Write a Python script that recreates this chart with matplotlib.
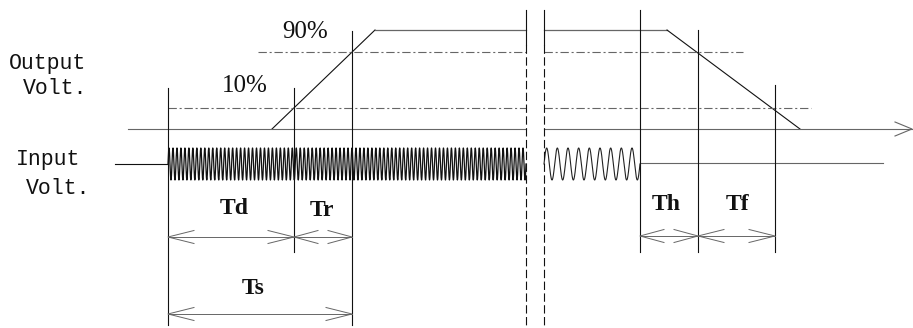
import numpy as np
import matplotlib.pyplot as plt

plt.rcParams['lines.scale_dashes'] = False

# ----------------------------
# timing points (time axis, left to right)
# ----------------------------
t_lead = 115        # input lead-in starts
t_on = 168          # input switched on
t_rise0 = 272       # output starts rising
t_10 = 294          # output reaches 10%
t_90 = 352          # output reaches 90%
t_top = 375         # output reaches 100%
t_brk = [526, 544]  # time axis break
t_off = 640         # input switched off
t_fall0 = 667       # output starts falling
t_f90 = 698         # output back to 90%
t_f10 = 775         # output back to 10%
t_fall1 = 800       # output back to 0
t_end = 912

# output levels
lv_0 = 129
lv_10 = 108
lv_90 = 52
lv_100 = 30
in_y = 164
in_amp = 16

# carrier cycles
cycles_fast = 90
cycles_slow = 9

level_names = ["10%", "90%"]
span_names = ["Td", "Tr", "Ts", "Th", "Tf"]

# ----------------------------
# figure
# ----------------------------
fig = plt.figure(figsize=(9.13, 3.28), dpi=100)
ax = fig.add_axes([0, 0, 1, 1])
ax.set_xlim(0, 913)
ax.set_ylim(328, 0)
ax.axis('off')

blk = '#111111'
gry = '#666666'
dashdot = (0, (6, 2, 1.5, 2))

# output waveform
ax.plot([t_rise0, t_top], [lv_0, lv_100], color=blk, lw=0.8)
ax.plot([t_top, t_brk[0]], [lv_100, lv_100], color=gry, lw=0.9)
ax.plot([t_brk[1], t_fall0], [lv_100, lv_100], color=gry, lw=0.9)
ax.plot([t_fall0, t_fall1], [lv_100, lv_0], color=blk, lw=0.8)

# 10% / 90% reference lines
ax.plot([258, t_brk[0]], [lv_90, lv_90], color=gry, lw=0.8, linestyle=dashdot)
ax.plot([t_brk[1], 743], [lv_90, lv_90], color=gry, lw=0.8, linestyle=dashdot)
ax.plot([t_on, t_brk[0]], [lv_10, lv_10], color=gry, lw=0.8, linestyle=dashdot)
ax.plot([t_brk[1], 811], [lv_10, lv_10], color=gry, lw=0.8, linestyle=dashdot)

# zero line / time axis with open arrow
ax.plot([128, t_brk[0]], [lv_0, lv_0], color=gry, lw=0.8)
ax.plot([t_brk[1], t_end], [lv_0, lv_0], color=gry, lw=0.8)
ax.plot([t_end - 17, t_end, t_end - 17], [lv_0 - 7, lv_0, lv_0 + 7], color=gry, lw=0.8)

# input waveform
ax.plot([t_lead, t_on], [in_y, in_y], color=blk, lw=0.8)
xf = np.linspace(t_on, t_brk[0], 4000)
ax.plot(xf, in_y - in_amp * np.sin(2 * np.pi * cycles_fast * (xf - t_on) / (t_brk[0] - t_on)),
        color='#111111', lw=0.9)
xs = np.linspace(t_brk[1], t_off, 800)
ax.plot(xs, in_y - in_amp * np.sin(2 * np.pi * cycles_slow * (xs - t_brk[1]) / (t_off - t_brk[1])),
        color='#222222', lw=0.8)
ax.plot([t_off, 883], [in_y - 1, in_y - 1], color=gry, lw=0.8)

# vertical markers
ax.plot([t_on, t_on], [88, 325], color=blk, lw=0.8)
ax.plot([t_10, t_10], [88, 252], color=blk, lw=0.8)
ax.plot([t_90, t_90], [31, 325], color=blk, lw=0.8)
ax.plot([t_off, t_off], [10, 252], color=blk, lw=0.8)
ax.plot([t_f90, t_f90], [30, 252], color=blk, lw=0.8)
ax.plot([t_f10, t_f10], [85, 252], color=blk, lw=0.8)

# break lines
for xb in t_brk:
    ax.plot([xb, xb], [10, 45], color=blk, lw=0.8)
    ax.plot([xb, xb], [45, 328], color=blk, lw=0.8, linestyle=(0, (6, 2.5)))


# dimension arrows
def dim(x1, x2, y, head=26, half=6.5):
    ax.plot([x1, x2], [y, y], color=gry, lw=0.7)
    ax.plot([x1 + head, x1, x1 + head], [y - half, y, y + half], color=gry, lw=0.7)
    ax.plot([x2 - head, x2, x2 - head], [y - half, y, y + half], color=gry, lw=0.7)


dim(t_on, t_10, 237)
dim(t_10, t_90, 237, head=24)
dim(t_on, t_90, 314)
dim(t_off, t_f90, 236, head=24)
dim(t_f90, t_f10, 236)

# ----------------------------
# text
# ----------------------------
mono = dict(family='Liberation Mono', fontsize=15.5, color=blk, va='center', ha='left')
ax.text(9, 63, "Output", **mono)
ax.text(23, 89, "Volt.", **mono)
ax.text(16, 160, "Input", **mono)
ax.text(26, 188, "Volt.", **mono)

pct = dict(family='Liberation Serif', fontsize=18, color=blk, va='center', ha='center')
ax.text(245, 86, level_names[0], **pct)
ax.text(305, 32, level_names[1], **pct)

serif = dict(family='Liberation Serif', fontsize=17, weight='bold', color=blk, va='center', ha='center')
ax.text(234, 209, span_names[0], **serif)
ax.text(322, 211, span_names[1], **serif)
ax.text(253, 288, span_names[2], **serif)
ax.text(666, 205, span_names[3], **serif)
ax.text(738, 205, span_names[4], **serif)

fig.savefig("out.png", dpi=100)
